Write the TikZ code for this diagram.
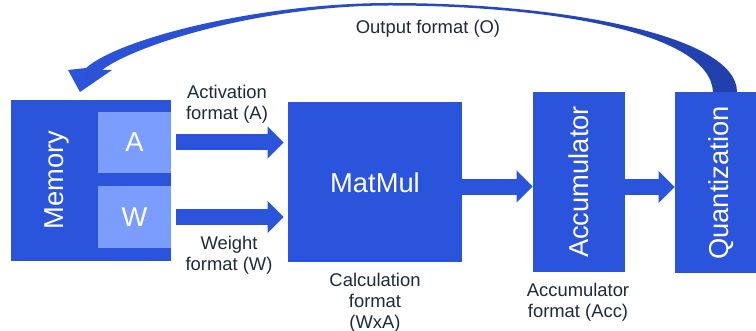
\documentclass[tikz,border=0pt]{standalone}
\usepackage{xcolor}
\usepackage{fontspec}
\setmainfont{Liberation Sans}
\usetikzlibrary{arrows.meta}

\definecolor{boxblue}{HTML}{2A54DC}
\definecolor{lightblue}{HTML}{7B9DFD}
\definecolor{darkarrow}{HTML}{2240AC}
\definecolor{txtcol}{HTML}{1C2A3A}

\begin{document}
\begin{tikzpicture}[x=0.75pt,y=-0.75pt,
    box/.style={fill=boxblue,inner sep=0pt},
    subbox/.style={fill=lightblue,inner sep=0pt,text=white,font=\fontsize{20.5}{24}\selectfont},
    bigtxt/.style={text=white,inner sep=0pt,font=\fontsize{20.5}{24}\selectfont},
    lbl/.style={text=txtcol,align=center,inner sep=0pt,font=\fontsize{13.8}{15.75}\selectfont},
    blockarr/.style={draw=boxblue,line width=12pt,-{Triangle[width=23pt,length=12pt]}}]
          %page size
          \useasboundingbox (0,0) rectangle (756,331);
          \clip (0,0) rectangle (756,331);

          %blocks
          \node[box,minimum width=120pt,minimum height=120.75pt] (mem) at (91,180.5) {};
          \node[bigtxt,rotate=90] (memtxt) at (57,180) {Memory};
          \node[subbox,minimum width=54.75pt,minimum height=45.75pt] (a) at (134.5,142.5) {A};
          \node[subbox,minimum width=54.75pt,minimum height=46.5pt] (w) at (134.5,217) {W};
          \node[box,minimum width=130.5pt,minimum height=120pt] (mm) at (375,182) {};
          \node[bigtxt] (mmtxt) at (375,183) {MatMul};
          \node[box,minimum width=69pt,minimum height=135pt] (acc) at (579,182) {};
          \node[bigtxt,rotate=90] (acctxt) at (579,182) {Accumulator};
          \node[box,minimum width=69pt,minimum height=135.75pt] (q) at (721,182.5) {};
          \node[bigtxt,rotate=90] (qtxt) at (721,183) {Quantization};

          %labels
          \node[lbl] (actlbl) at (227,104.5) {Activation\\format (A)};
          \node[lbl] (wlbl) at (229,255) {Weight\\format (W)};
          \node[lbl] (calclbl) at (375,303) {Calculation\\format\\(WxA)};
          \node[lbl] (acclbl) at (578,302.5) {Accumulator\\format (Acc)};
          \node[lbl] (outlbl) at (428,29) {Output format (O)};

          %arrows
          \draw[blockarr] ([xshift=3.75pt]a.east) -- ([xshift=-3pt]a.east -| mm.west);
          \draw[blockarr] ([xshift=3.75pt]w.east) -- ([xshift=-3pt]w.east -| mm.west);
          \draw[blockarr] ([yshift=-3.4pt]mm.east) -- ([yshift=-3.4pt]mm.east -| acc.west);
          \draw[blockarr] ([yshift=-3.8pt]acc.east) -- ([yshift=-3.8pt]acc.east -| q.west);

          %feedback arrow
          \shade[left color=boxblue,right color=darkarrow]
            (713,92) .. controls (710,30) and (540,5.5) .. (390,5.5)
            .. controls (260,5.5) and (135,45) .. (102,70)
            -- (112,70) -- (80,92) -- (68,70) -- (86,68)
            .. controls (120,38) and (260,3) .. (390,3)
            .. controls (560,3) and (737,35) .. (737,92) -- cycle;
          \end{tikzpicture}
\end{document}
